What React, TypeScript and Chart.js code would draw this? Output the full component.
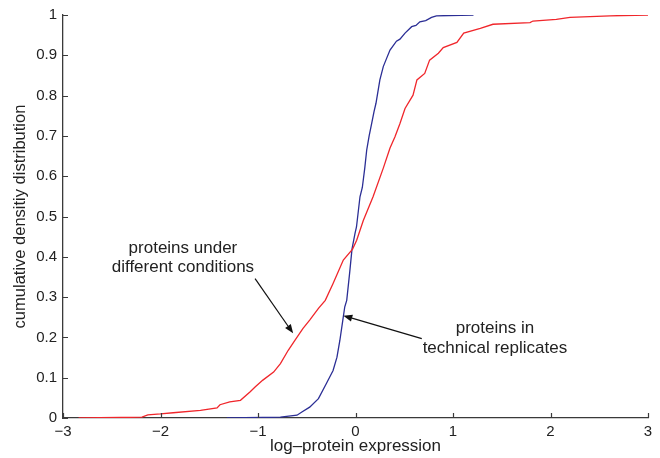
import React, { useEffect, useRef } from "react";
import { Chart, registerables } from "chart.js";

Chart.register(...registerables);

// Blue: proteins in technical replicates (empirical CDF)
const blueX = [-1.32, -0.77, -0.6, -0.55, -0.47, -0.38, -0.3, -0.23, -0.19, -0.16, -0.13, -0.11, -0.09, -0.06, -0.036, -0.005, 0.01, 0.046, 0.07, 0.095, 0.115, 0.14, 0.166, 0.19, 0.21, 0.25, 0.285, 0.32, 0.354, 0.42, 0.456, 0.508, 0.576, 0.62, 0.66, 0.72, 0.78, 0.83, 1.21];
const blueY = [0, 0.002, 0.007, 0.015, 0.027, 0.048, 0.085, 0.118, 0.151, 0.193, 0.243, 0.276, 0.292, 0.36, 0.419, 0.458, 0.474, 0.549, 0.572, 0.62, 0.665, 0.7, 0.731, 0.76, 0.781, 0.839, 0.872, 0.893, 0.913, 0.935, 0.94, 0.955, 0.971, 0.974, 0.983, 0.986, 0.994, 0.998, 1.0];

// Red: proteins under different conditions (empirical CDF)
const redX = [-2.84, -2.19, -2.13, -2.0, -1.87, -1.59, -1.42, -1.39, -1.29, -1.18, -1.08, -1.03, -0.95, -0.84, -0.77, -0.69, -0.62, -0.54, -0.47, -0.38, -0.31, -0.23, -0.125, -0.03, 0.012, 0.08, 0.18, 0.285, 0.354, 0.405, 0.456, 0.508, 0.59, 0.63, 0.71, 0.76, 0.85, 0.9, 1.04, 1.11, 1.28, 1.41, 1.79, 1.82, 2.06, 2.2, 2.61, 3.0];
const redY = [0, 0.002, 0.008, 0.01, 0.013, 0.019, 0.025, 0.033, 0.04, 0.044, 0.065, 0.077, 0.094, 0.114, 0.135, 0.168, 0.193, 0.222, 0.243, 0.272, 0.292, 0.334, 0.392, 0.419, 0.441, 0.49, 0.549, 0.62, 0.67, 0.698, 0.731, 0.768, 0.801, 0.839, 0.855, 0.888, 0.905, 0.919, 0.932, 0.955, 0.967, 0.977, 0.981, 0.985, 0.989, 0.994, 0.998, 1.0];

const xTicks = [-3, -2, -1, 0, 1, 2, 3];
const xTickLabels = ["\u22123", "\u22122", "\u22121", "0", "1", "2", "3"];
const yTicks = [0, 0.1, 0.2, 0.3, 0.4, 0.5, 0.6, 0.7, 0.8, 0.9, 1];
const yTickLabels = ["0", "0.1", "0.2", "0.3", "0.4", "0.5", "0.6", "0.7", "0.8", "0.9", "1"];

const xTitle = "log\u2013protein expression";
const yTitle = "cumulative densitiy distribution";

// Annotations (in data coordinates)
const annotations = [
  {
    lines: ["proteins under", "different conditions"],
    textX: -1.77,
    textY: [0.421, 0.375],
    from: [-1.03, 0.346],
    to: [-0.64, 0.21],
  },
  {
    lines: ["proteins in", "technical replicates"],
    textX: 1.43,
    textY: [0.222, 0.172],
    from: [0.68, 0.197],
    to: [-0.125, 0.254],
  },
];

const FONT = "'Liberation Sans', Arial, Helvetica, sans-serif";
const AXIS_COLOR = "#3a3a3a";
const TEXT_COLOR = "#222222";

const inwardTicks = {
  id: "inwardTicks",
  afterDraw(chart: any) {
    const { ctx, chartArea, scales } = chart;
    ctx.save();
    ctx.strokeStyle = AXIS_COLOR;
    ctx.lineWidth = 1.2;
    ctx.beginPath();
    xTicks.forEach((v) => {
      const px = Math.round(scales.x.getPixelForValue(v)) + 0.5;
      ctx.moveTo(px, chartArea.bottom);
      ctx.lineTo(px, chartArea.bottom - 5);
    });
    yTicks.forEach((v) => {
      const py = Math.round(scales.y.getPixelForValue(v)) + 0.5;
      ctx.moveTo(chartArea.left, py);
      ctx.lineTo(chartArea.left + 5, py);
    });
    ctx.stroke();
    ctx.restore();
  },
};

const annotationPlugin = {
  id: "textArrows",
  afterDatasetsDraw(chart: any) {
    const { ctx, scales } = chart;
    const X = (v: number) => scales.x.getPixelForValue(v);
    const Y = (v: number) => scales.y.getPixelForValue(v);
    ctx.save();
    ctx.font = `17px ${FONT}`;
    ctx.fillStyle = TEXT_COLOR;
    ctx.textAlign = "center";
    ctx.textBaseline = "middle";
    annotations.forEach((a) => {
      a.lines.forEach((t, i) => ctx.fillText(t, X(a.textX), Y(a.textY[i])));
      const x1 = X(a.from[0]);
      const y1 = Y(a.from[1]);
      const x2 = X(a.to[0]);
      const y2 = Y(a.to[1]);
      const ang = Math.atan2(y2 - y1, x2 - x1);
      const hl = 9;
      const hw = 3.5;
      const bx = x2 - hl * Math.cos(ang);
      const by = y2 - hl * Math.sin(ang);
      ctx.strokeStyle = "#111";
      ctx.lineWidth = 1.2;
      ctx.beginPath();
      ctx.moveTo(x1, y1);
      ctx.lineTo(bx, by);
      ctx.stroke();
      ctx.fillStyle = "#111";
      ctx.beginPath();
      ctx.moveTo(x2, y2);
      ctx.lineTo(bx + hw * Math.sin(ang), by - hw * Math.cos(ang));
      ctx.lineTo(bx - hw * Math.sin(ang), by + hw * Math.cos(ang));
      ctx.closePath();
      ctx.fill();
      ctx.fillStyle = TEXT_COLOR;
    });
    ctx.restore();
  },
};

export default function App() {
  const canvasRef = useRef<HTMLCanvasElement | null>(null);

  useEffect(() => {
    document.body.style.margin = "0";
    const canvas = canvasRef.current;
    if (!canvas) return;
    const chart = new Chart(canvas, {
      type: "line",
      data: {
        datasets: [
          {
            label: "different conditions",
            data: redX.map((x, i) => ({ x, y: redY[i] })),
            borderColor: "#f0262b",
            borderWidth: 1.3,
            pointRadius: 0,
            tension: 0,
            fill: false,
          },
          {
            label: "technical replicates",
            data: blueX.map((x, i) => ({ x, y: blueY[i] })),
            borderColor: "#2b2e95",
            borderWidth: 1.3,
            pointRadius: 0,
            tension: 0,
            fill: false,
          },
        ],
      },
      options: {
        responsive: false,
        animation: false,
        events: [],
        layout: { padding: { left: 0, right: 12, top: 15, bottom: 0 } },
        plugins: {
          legend: { display: false },
          tooltip: { enabled: false },
          title: { display: false },
        },
        scales: {
          x: {
            type: "linear",
            min: -3,
            max: 3,
            afterBuildTicks: (scale: any) => {
              scale.ticks = xTicks.map((v) => ({ value: v }));
            },
            afterFit: (scale: any) => {
              scale.height = 40;
            },
            ticks: {
              autoSkip: false,
              maxRotation: 0,
              padding: 5,
              color: TEXT_COLOR,
              font: { family: FONT, size: 15 },
              callback: (_v: any, i: number) => xTickLabels[i],
            },
            grid: { display: false, drawTicks: false },
            border: { display: true, color: AXIS_COLOR, width: 1.3 },
            title: {
              display: true,
              text: xTitle,
              color: TEXT_COLOR,
              font: { family: FONT, size: 17 },
              padding: { top: 0, bottom: 1 },
            },
          },
          y: {
            type: "linear",
            min: 0,
            max: 1,
            afterBuildTicks: (scale: any) => {
              scale.ticks = yTicks.map((v) => ({ value: v }));
            },
            afterFit: (scale: any) => {
              scale.width = 63;
            },
            ticks: {
              autoSkip: false,
              padding: 6,
              color: TEXT_COLOR,
              font: { family: FONT, size: 15 },
              callback: (_v: any, i: number) => yTickLabels[i],
            },
            grid: { display: false, drawTicks: false },
            border: { display: true, color: AXIS_COLOR, width: 1.3 },
            title: {
              display: true,
              text: yTitle,
              color: TEXT_COLOR,
              font: { family: FONT, size: 16.5 },
              padding: { top: 11, bottom: 0 },
            },
          },
        },
      },
      plugins: [inwardTicks, annotationPlugin],
    });
    return () => chart.destroy();
  }, []);

  return (
    <div style={{ position: "absolute", left: 0, top: 0, width: 660, height: 458 }}>
      <canvas ref={canvasRef} width={660} height={458} style={{ display: "block" }} />
    </div>
  );
}
